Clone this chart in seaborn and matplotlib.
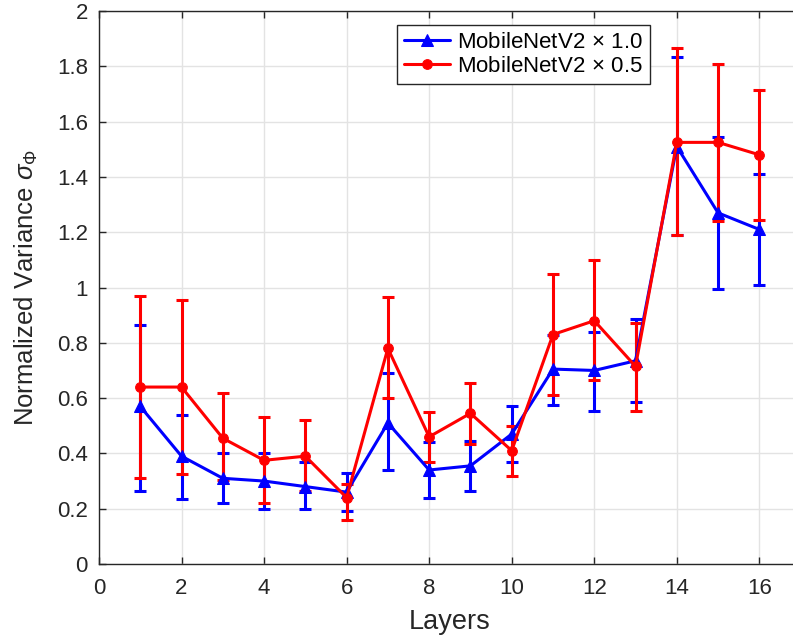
import numpy as np
import pandas as pd
import matplotlib
matplotlib.use("Agg")
import matplotlib.pyplot as plt
import seaborn as sns

layers = list(range(1, 17))
blue_mean = [0.57, 0.39, 0.31, 0.30, 0.28, 0.26, 0.51, 0.34, 0.355, 0.47, 0.705, 0.70, 0.735, 1.51, 1.27, 1.21]
blue_top = [0.865, 0.54, 0.40, 0.40, 0.37, 0.33, 0.69, 0.44, 0.445, 0.57, 0.83, 0.84, 0.885, 1.835, 1.545, 1.41]
blue_bot = [0.265, 0.235, 0.22, 0.20, 0.20, 0.19, 0.34, 0.24, 0.265, 0.37, 0.575, 0.555, 0.585, 1.19, 0.995, 1.01]
red_mean = [0.64, 0.64, 0.455, 0.375, 0.39, 0.24, 0.78, 0.46, 0.545, 0.41, 0.83, 0.88, 0.715, 1.525, 1.525, 1.48]
red_top = [0.97, 0.955, 0.617, 0.53, 0.52, 0.29, 0.965, 0.55, 0.655, 0.50, 1.05, 1.10, 0.87, 1.865, 1.81, 1.715]
red_bot = [0.31, 0.325, 0.303, 0.22, 0.265, 0.16, 0.60, 0.37, 0.435, 0.32, 0.61, 0.665, 0.555, 1.19, 1.24, 1.245]
labels = ["MobileNetV2$\\,\\times\\,$1.0", "MobileNetV2$\\,\\times\\,$0.5"]

sns.set_theme(style="white")
plt.rcParams['font.family'] = ['Liberation Sans', 'DejaVu Sans']
plt.rcParams['mathtext.fontset'] = 'custom'
plt.rcParams['mathtext.rm'] = 'Liberation Sans'
plt.rcParams['mathtext.it'] = 'Liberation Sans:italic'

fig = plt.figure(figsize=(7.93, 6.4), dpi=100)
ax = fig.add_axes([0.1248, 0.11875, 0.8848, 0.864])

series = [(blue_mean, blue_top, blue_bot, "#0000ff", "^", 8.5, labels[0]),
          (red_mean, red_top, red_bot, "#ff0000", "o", 7, labels[1])]
for mean, top, bot, col, mk, ms, lab in series:
    m = np.array(mean); t = np.array(top); b = np.array(bot)
    ax.errorbar(layers, m, yerr=[m - b, t - m], fmt="none", ecolor=col,
                elinewidth=2.2, capsize=4.5, capthick=2.2, zorder=3)
    df = pd.DataFrame({"x": layers, "y": mean})
    sns.lineplot(data=df, x="x", y="y", ax=ax, color=col, lw=2.2, marker=mk,
                 markersize=ms, markeredgecolor=col, markerfacecolor=col,
                 label=lab, zorder=4)

ax.set_xlim(0, 17)
ax.set_ylim(0, 2)
ax.set_xticks(range(0, 17, 2))
ax.set_yticks(np.arange(0, 2.01, 0.2))
ax.set_yticklabels(["0", "0.2", "0.4", "0.6", "0.8", "1", "1.2", "1.4", "1.6", "1.8", "2"])
ax.grid(True, color="#e3e3e3", lw=1)
ax.set_axisbelow(True)
for s in ax.spines.values():
    s.set_color("#262626"); s.set_linewidth(1)
ax.spines["right"].set_visible(False)
ax.tick_params(direction="in", length=5, width=1, colors="#262626", labelsize=16,
               top=True, right=False, bottom=True, left=True, labelcolor="#262626")
ax.tick_params(axis="x", pad=10)
ax.tick_params(axis="y", pad=8)
ax.set_xlabel("Layers", fontsize=19.5, color="#262626", labelpad=7)
ax.set_ylabel("Normalized Variance $\\sigma_\\Phi$", fontsize=18.5, color="#262626", labelpad=12)

leg = ax.legend(loc="upper left", bbox_to_anchor=(0.4247, 0.9747), fontsize=16,
                frameon=True, fancybox=False, edgecolor="#262626", framealpha=1,
                borderpad=0.3, borderaxespad=0, handlelength=2.1, handletextpad=0.3,
                labelspacing=0.15)
leg.get_frame().set_linewidth(1)
for t in leg.get_texts():
    t.set_color("black")

fig.savefig("out.png", dpi=100)
